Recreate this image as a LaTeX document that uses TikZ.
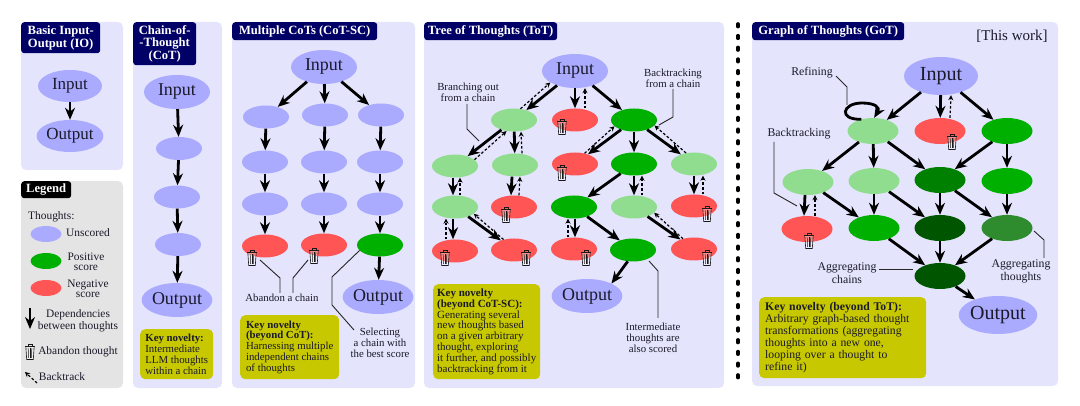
\documentclass[tikz,border=0pt]{standalone}
\usepackage{fontspec}
\setmainfont{Liberation Serif}
\usetikzlibrary{arrows.meta,shapes.geometric}
\definecolor{panelbg}{HTML}{E4E4FC}
\definecolor{legendbg}{HTML}{E4E4E4}
\definecolor{titlebg}{HTML}{000066}
\definecolor{keybg}{HTML}{C8C800}
\definecolor{unscoredc}{HTML}{AAAAFF}
\definecolor{posc}{HTML}{00B000}
\definecolor{negc}{HTML}{FF5555}
\definecolor{lightposc}{HTML}{90DD90}
\definecolor{darkposc}{HTML}{008000}
\definecolor{deepposc}{HTML}{005500}
\definecolor{midposc}{HTML}{2E8B2E}
\definecolor{inkc}{HTML}{1A1A2A}
\tikzset{
  panel/.style={fill=panelbg, rounded corners=5pt},
  tagbox/.style={fill=titlebg, text=white, rounded corners=3pt, inner sep=0pt, anchor=north west, align=center, font=\bfseries\fontsize{12.6}{12.7}\selectfont},
  keybox/.style={fill=keybg, text=inkc, rounded corners=5pt, inner sep=0pt, anchor=north west, align=left, font=\fontsize{10.8}{10.8}\selectfont},
  note/.style={text=inkc, inner sep=0pt, align=center, font=\fontsize{10.8}{11.3}\selectfont},
  legnote/.style={text=inkc, inner sep=0pt, align=center, font=\fontsize{11.4}{11.4}\selectfont},
  bignote/.style={text=inkc, inner sep=0pt, align=center, font=\fontsize{11.8}{13}\selectfont},
  thought/.style={ellipse, inner sep=0pt, text=inkc},
  smallt/.style={thought, minimum width=46pt, minimum height=23pt},
  bigt/.style={thought, minimum width=66pt, minimum height=34pt, font=\fontsize{18}{20}\selectfont},
  gott/.style={thought, minimum width=51pt, minimum height=26pt},
  gotbig/.style={thought, minimum width=74pt, minimum height=38pt, font=\fontsize{20}{22}\selectfont},
  unscored/.style={fill=unscoredc},
  positive/.style={fill=posc},
  negative/.style={fill=negc},
  lightpos/.style={fill=lightposc},
  dep/.style={draw=black, line width=2.8pt, -{Stealth[length=12pt,width=10pt]}},
  back/.style={draw=black, line width=1.2pt, dash pattern=on 2.6pt off 2pt, -{Stealth[length=5pt,width=5pt]}},
  callout/.style={draw=black!85, line width=0.9pt},
  trashcan/.pic={
    \path[fill=white, fill opacity=0.35] (-4.2,-5) -- (-3.3,8.5) -- (3.3,8.5) -- (4.2,-5) -- cycle;
    \draw[black!90, line width=0.6pt] (-4.2,-5) -- (-3.3,8.5) -- (3.3,8.5) -- (4.2,-5);
    \draw[black!90, line width=0.7pt] (-5,-5) -- (5,-5);
    \draw[black!90, line width=0.6pt] (-2,-5) -- (-2,-7) -- (2,-7) -- (2,-5);
    \draw[black!90, line width=0.5pt] (-1.8,-3) -- (-1.5,7);
    \draw[black!90, line width=0.5pt] (0,-3) -- (0,7);
    \draw[black!90, line width=0.5pt] (1.8,-3) -- (1.5,7);
  }
}
\begin{document}
\begin{tikzpicture}[x=1pt,y=-1pt]
\useasboundingbox (0,0) rectangle (1080,406);
\begin{scope}
\fill[panel] (21,22) rectangle (123,170);
\node[tagbox, minimum width=79pt, minimum height=31pt] (iotag) at (21,22) {Basic Input-\\Output (IO)};
\node[bigt, unscored, minimum width=64pt, minimum height=32pt, font=\fontsize{17}{19}\selectfont] (ioin) at (70,86) {Input};
\node[bigt, unscored, minimum width=64pt, minimum height=32pt, font=\fontsize{17}{19}\selectfont] (ioout) at (70,136) {Output};
\path[dep] (ioin) -- (ioout);
\end{scope}
\begin{scope}
\fill[legendbg, rounded corners=5pt] (21,181) rectangle (123,388);
\node[tagbox, fill=black, minimum width=50pt, minimum height=17pt] (legtag) at (21,181) {Legend};
\node[legnote, anchor=west] (legth) at (28,217) {Thoughts:};
\node[thought, unscored, minimum width=31pt, minimum height=16pt] (legu) at (46,234) {};
\node[thought, positive, minimum width=31pt, minimum height=16pt] (legp) at (46,261) {};
\node[thought, negative, minimum width=31pt, minimum height=16pt] (legn) at (46,288) {};
\node[legnote] (legut) at (88,233) {Unscored};
\node[legnote, font=\fontsize{11.4}{9.6}\selectfont] (legpt) at (86,262) {Positive\\score};
\node[legnote, font=\fontsize{11.4}{10}\selectfont] (legnt) at (88,289) {Negative\\score};
\coordinate (legd1) at (30,308);
\coordinate (legd2) at (30,329);
\path[dep] (legd1) -- (legd2);
\node[legnote, font=\fontsize{11.4}{12}\selectfont] (legdt) at (78,321) {Dependencies\\between thoughts};
\pic at (30,351) {trashcan};
\node[legnote] (legat) at (78,352) {Abandon thought};
\coordinate (legb1) at (37,383);
\coordinate (legb2) at (25,372);
\path[back] (legb1) -- (legb2);
\node[legnote] (legbt) at (62,377) {Backtrack};
\end{scope}
\begin{scope}
\fill[panel] (133,22) rectangle (222,388);
\node[tagbox, minimum width=63pt, minimum height=43pt] (cottag) at (133,22) {Chain-of-\\-Thought\\(CoT)};
\node[bigt, unscored] (c1) at (177,92) {Input};
\node[smallt, unscored] (c2) at (179,148.5) {};
\node[smallt, unscored] (c3) at (177,197) {};
\node[smallt, unscored] (c4) at (178,244.5) {};
\node[bigt, unscored] (c5) at (177,300) {Output};
\path[dep] (c1) -- (c2);
\path[dep] (c2) -- (c3);
\path[dep] (c3) -- (c4);
\path[dep] (c4) -- (c5);
\node[keybox, minimum width=73pt, minimum height=50pt] (cotkey) at (140,329) {\textbf{Key novelty:}\\Intermediate\\LLM thoughts\\within a chain};
\end{scope}
\begin{scope}
\fill[panel] (232,22) rectangle (415,388);
\node[tagbox, minimum width=145pt, minimum height=18pt] (sctag) at (232,22) {Multiple CoTs (CoT-SC)};
\node[bigt, unscored] (s0) at (324,67) {Input};
\node[smallt, unscored] (s1) at (266,117) {};
\node[smallt, unscored] (s2) at (325,115) {};
\node[smallt, unscored] (s3) at (381,115) {};
\node[smallt, unscored] (s4) at (265,162) {};
\node[smallt, unscored] (s5) at (324,162) {};
\node[smallt, unscored] (s6) at (380,162) {};
\node[smallt, unscored] (s7) at (265,204) {};
\node[smallt, unscored] (s8) at (324,204) {};
\node[smallt, unscored] (s9) at (380,204) {};
\node[smallt, negative] (s10) at (265,246) {};
\node[smallt, negative] (s11) at (324,245) {};
\node[smallt, positive] (s12) at (380,245) {};
\node[bigt, unscored] (s13) at (378,297) {Output};
\path[dep] (s0) -- (s1);
\path[dep] (s0) -- (s2);
\path[dep] (s0) -- (s3);
\path[dep] (s1) -- (s4);
\path[dep] (s2) -- (s5);
\path[dep] (s3) -- (s6);
\path[dep] (s4) -- (s7);
\path[dep] (s5) -- (s8);
\path[dep] (s6) -- (s9);
\path[dep] (s7) -- (s10);
\path[dep] (s8) -- (s11);
\path[dep] (s9) -- (s12);
\path[dep] (s12) -- (s13);
\pic at (252,257) {trashcan};
\pic at (314,255) {trashcan};
\node[note] (sclab1) at (282,298) {Abandon a chain};
\node[note] (sclab2) at (380,343) {Selecting\\a chain with\\the best score};
\coordinate (sca) at (260,260);
\coordinate (scb) at (308,260);
\coordinate (scc) at (354,330);
\path[callout] (sca) -- (280,278) -- (280,293);
\path[callout] (scb) -- (293,278) -- (293,293);
\path[callout] (s12.195) -- (332,277) -- (332,305) -- (scc);
\node[keybox, minimum width=99pt, minimum height=64pt] (sckey) at (240,315) {\textbf{Key novelty}\\\textbf{(beyond CoT):}\\Harnessing multiple\\independent chains\\of thoughts};
\end{scope}
\begin{scope}
\fill[panel] (424,22) rectangle (724,388);
\node[tagbox, minimum width=133pt, minimum height=18pt] (tottag) at (424,22) {Tree of Thoughts (ToT)};
\node[bigt, unscored] (t0) at (575,71) {Input};
\node[smallt, lightpos] (t1) at (514,120) {};
\node[smallt, negative] (t2) at (575,120) {};
\node[smallt, positive] (t3) at (634,120) {};
\node[smallt, lightpos] (t4) at (455,166) {};
\node[smallt, lightpos] (t5) at (515,165) {};
\node[smallt, negative] (t6) at (575,164) {};
\node[smallt, positive] (t7) at (634,164) {};
\node[smallt, lightpos] (t8) at (694,164) {};
\node[smallt, lightpos] (t9) at (455,207) {};
\node[smallt, negative] (t10) at (514,207) {};
\node[smallt, positive] (t11) at (574,207) {};
\node[smallt, lightpos] (t12) at (634,207) {};
\node[smallt, negative] (t13) at (694,206) {};
\node[smallt, negative] (t14) at (455,251) {};
\node[smallt, negative] (t15) at (514,250) {};
\node[smallt, negative] (t16) at (574,249) {};
\node[smallt, positive] (t17) at (633,250) {};
\node[smallt, negative] (t18) at (694,249) {};
\node[bigt, unscored] (t19) at (587,296) {Output};
\path[dep] (t0) -- (t1);
\path[dep] (t0) -- (t2);
\path[dep] (t0) -- (t3);
\path[dep] (t1) -- (t4);
\path[dep] (t1) -- (t5);
\path[dep] (t3) -- (t6);
\path[dep] (t3) -- (t7);
\path[dep] (t3) -- (t8);
\path[dep] ([xshift=-2pt]t4.south) -- ([xshift=-2pt]t9.north);
\path[dep] ([xshift=-3pt]t5.south) -- ([xshift=-3pt]t10.north);
\path[dep] (t7) -- (t11);
\path[dep] (t7) -- (t12);
\path[dep] (t8) -- (t13);
\path[dep] ([xshift=-2pt]t9.south) -- ([xshift=-2pt]t14.north);
\path[dep] (t9) -- (t15);
\path[dep] ([xshift=1pt]t11.south) -- ([xshift=1pt]t16.north);
\path[dep] (t11) -- (t17);
\path[dep] (t12) -- (t18);
\path[dep] (t17.245) -- (t19.27);
\path[back] (t1.60) -- (t0.205);
\path[back] ([xshift=10pt]t2.north) -- ([xshift=10pt]t0.south);
\path[back] (t4.18) -- (t1.236);
\path[back] ([xshift=7pt]t5.north) -- ([xshift=7pt]t1.south);
\path[back] (t6.48) -- (t3.198);
\path[back] (t8.126) -- (t3.-15);
\path[back] ([xshift=5pt]t9.north) -- ([xshift=5pt]t4.south);
\path[back] ([xshift=5pt]t10.north) -- ([xshift=5pt]t5.south);
\path[back] ([xshift=8pt]t12.north) -- ([xshift=8pt]t7.south);
\path[back] ([xshift=9pt]t13.north) -- ([xshift=9pt]t8.south);
\path[back] ([xshift=-9pt]t14.north) -- ([xshift=-9pt]t9.south);
\path[back] (t15.135) -- (t9.-20);
\path[back] ([xshift=-6pt]t16.north) -- ([xshift=-6pt]t11.south);
\path[back] (t18.137) -- (t12.-16);
\pic at (562,126) {trashcan};
\pic at (562,172) {trashcan};
\pic at (506,214) {trashcan};
\pic at (707,213) {trashcan};
\pic at (445,257) {trashcan};
\pic at (526,257) {trashcan};
\pic at (586,257) {trashcan};
\pic at (707,257) {trashcan};
\node[note] (totlab1) at (468,92) {Branching out\\from a chain};
\node[note] (totlab2) at (673,78) {Backtracking\\from a chain};
\node[note] (totlab3) at (653,338) {Intermediate\\thoughts are\\also scored};
\coordinate (tota) at (479,141);
\coordinate (totb) at (659,125);
\coordinate (totc) at (649,261);
\path[callout] (tota) -- (467,129) -- (467,104);
\path[callout] (totb) -- (673,117) -- (673,89);
\path[callout] (totc) -- (658,271) -- (658,318);
\node[keybox, minimum width=107pt, minimum height=95pt, font=\fontsize{11}{10.8}\selectfont] (totkey) at (433,284) {\textbf{Key novelty}\\\textbf{(beyond CoT-SC):}\\Generating several\\new thoughts based\\on a given arbitrary\\thought, exploring\\it further, and possibly\\backtracking from it};
\end{scope}
\path[draw=black, line width=3.6pt, line cap=round, dash pattern=on 2.6pt off 9.1pt] (738,24) -- (738,384);
\begin{scope}
\fill[panel] (752,22) rectangle (1058,386);
\node[tagbox, minimum width=152pt, minimum height=18pt] (gottag) at (752,22) {Graph of Thoughts (GoT)};
\node[text=inkc, inner sep=0pt, font=\fontsize{15}{17}\selectfont] (gotwork) at (1012,36) {[This work]};
\node[gotbig, unscored] (g0) at (941,76) {Input};
\node[gott, lightpos] (g1) at (873,131) {};
\node[gott, negative] (g2) at (940,131) {};
\node[gott, positive] (g3) at (1007,131) {};
\node[gott, lightpos] (g4) at (808,182) {};
\node[gott, lightpos] (g5) at (874,181) {};
\node[gott, fill=darkposc] (g6) at (940,180) {};
\node[gott, positive] (g7) at (1007,181) {};
\node[gott, negative] (g8) at (807,229) {};
\node[gott, positive] (g9) at (874,228) {};
\node[gott, fill=deepposc] (g10) at (940,228) {};
\node[gott, fill=midposc] (g11) at (1007,228) {};
\node[gott, fill=deepposc] (g12) at (940,276) {};
\node[gotbig, unscored] (g13) at (998,315) {Output};
\path[dep] (g0) -- (g1);
\path[dep] (g0) -- (g2);
\path[dep] (g0) -- (g3);
\path[dep] (g1) -- (g4);
\path[dep] (g1) -- (g5);
\path[dep] (g1) -- (g6);
\path[dep] (g3) -- (g6);
\path[dep] (g3) -- (g7);
\path[dep] ([xshift=-3pt]g4.south) -- ([xshift=-3pt]g8.north);
\path[dep] (g4) -- (g9);
\path[dep] (g5) -- (g9);
\path[dep] (g5) -- (g10);
\path[dep] (g6) -- (g10);
\path[dep] (g6) -- (g11);
\path[dep] (g7) -- (g11);
\path[dep] (g9) -- (g12);
\path[dep] (g10) -- (g12);
\path[dep] (g11) -- (g12);
\path[dep] (g12) -- (g13);
\path[dep] (g1.135) .. controls (838,120) and (842,103) .. (862,103) .. controls (876,103) and (880,108) .. (g1.85);
\path[back] ([xshift=10pt]g2.north) -- ([xshift=10pt]g0.south);
\path[back] ([xshift=8pt]g8.north) -- ([xshift=7pt]g4.south);
\pic at (952,141) {trashcan};
\pic at (809,240) {trashcan};
\node[bignote] (gotlab1) at (812,73) {Refining};
\node[bignote] (gotlab2) at (799,134) {Backtracking};
\node[bignote] (gotlab3) at (847,273) {Aggregating\\chains};
\node[bignote] (gotlab4) at (1021,271) {Aggregating\\thoughts};
\coordinate (gota) at (836,76);
\coordinate (gotb) at (847,105);
\coordinate (gotc) at (774,142);
\coordinate (gotd) at (797,206);
\coordinate (gote) at (879,269);
\coordinate (gotf) at (913,269);
\coordinate (gotg) at (1034,231);
\coordinate (goth) at (1044,258);
\path[callout] (gota) -- (847,87) -- (gotb);
\path[callout] (gotc) -- (774,193) -- (gotd);
\path[callout] (gote) -- (gotf);
\path[callout] (gotg) -- (1044,240) -- (goth);
\node[keybox, text width=155pt, minimum height=81pt, inner xsep=6pt, font=\fontsize{11.7}{12}\selectfont] (gotkey) at (759,297) {\textbf{Key novelty (beyond ToT):}\\Arbitrary graph-based thought\\transformations (aggregating\\thoughts into a new one,\\looping over a thought to\\refine it)};
\end{scope}
\end{tikzpicture}
\end{document}
